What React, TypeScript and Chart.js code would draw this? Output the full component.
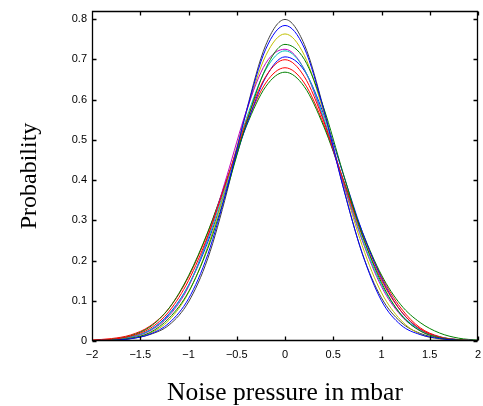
import React, { useEffect, useRef } from "react";
import { Chart, registerables } from "chart.js";

Chart.register(...registerables);

// x grid of the density estimates (mbar)
const xValues = [-2, -1.8, -1.6, -1.4, -1.2, -1, -0.8, -0.6, -0.4, -0.2, 0, 0.2, 0.4, 0.6, 0.8, 1, 1.2, 1.4, 1.6, 1.8, 2];

const xTickValues = [-2, -1.5, -1, -0.5, 0, 0.5, 1, 1.5, 2];
const yTickValues = [0, 0.1, 0.2, 0.3, 0.4, 0.5, 0.6, 0.7, 0.8];

// series values (probability density)
const seriesBlue1 = [0.0005, 0.0015, 0.0055, 0.017, 0.045, 0.105, 0.215, 0.38, 0.57, 0.725, 0.784, 0.728, 0.575, 0.385, 0.218, 0.1, 0.04, 0.016, 0.006, 0.0015, 0.0003];
const seriesGreen1 = [0.0006, 0.002, 0.007, 0.021, 0.057, 0.122, 0.23, 0.378, 0.542, 0.677, 0.737, 0.7, 0.58, 0.419, 0.264, 0.145, 0.066, 0.025, 0.008, 0.0025, 0.0007];
const seriesRed1 = [0.0015, 0.004, 0.012, 0.031, 0.074, 0.15, 0.261, 0.402, 0.547, 0.657, 0.699, 0.657, 0.547, 0.402, 0.262, 0.151, 0.075, 0.03, 0.01, 0.003, 0.001];
const seriesCyan = [0.0008, 0.0028, 0.01, 0.027, 0.066, 0.139, 0.252, 0.398, 0.553, 0.674, 0.721, 0.675, 0.555, 0.4, 0.254, 0.14, 0.067, 0.028, 0.01, 0.0033, 0.001];
const seriesMagenta = [0.001, 0.003, 0.009, 0.025, 0.063, 0.135, 0.258, 0.412, 0.572, 0.69, 0.725, 0.675, 0.55, 0.395, 0.25, 0.135, 0.064, 0.026, 0.009, 0.003, 0.0008];
const seriesYellow = [0.0005, 0.0015, 0.006, 0.019, 0.052, 0.12, 0.235, 0.393, 0.568, 0.709, 0.763, 0.71, 0.569, 0.395, 0.237, 0.12, 0.052, 0.017, 0.005, 0.0015, 0.0004];
const seriesBlack = [0.0005, 0.002, 0.006, 0.016, 0.04, 0.097, 0.205, 0.372, 0.572, 0.735, 0.799, 0.737, 0.578, 0.385, 0.218, 0.107, 0.047, 0.019, 0.007, 0.002, 0.0005];
const seriesBlue2 = [0.001, 0.003, 0.01, 0.027, 0.068, 0.138, 0.246, 0.387, 0.536, 0.655, 0.706, 0.672, 0.564, 0.417, 0.272, 0.156, 0.075, 0.029, 0.01, 0.003, 0.001];
const seriesGreen2 = [0.001, 0.004, 0.013, 0.035, 0.082, 0.162, 0.271, 0.403, 0.534, 0.632, 0.668, 0.632, 0.534, 0.403, 0.272, 0.164, 0.09, 0.046, 0.02, 0.007, 0.002];
const seriesRed2 = [0.0025, 0.006, 0.015, 0.037, 0.082, 0.159, 0.269, 0.403, 0.539, 0.641, 0.679, 0.641, 0.539, 0.403, 0.269, 0.16, 0.082, 0.033, 0.011, 0.0035, 0.001];

const seriesList = [seriesBlue1, seriesGreen1, seriesRed1, seriesCyan, seriesMagenta, seriesYellow, seriesBlack, seriesBlue2, seriesGreen2, seriesRed2];
const seriesColors = ["#0000ff", "#008000", "#ff0000", "#00bfbf", "#bf00bf", "#bfbf00", "#404040", "#0000ff", "#008000", "#ff0000"];

const fmt = (v: number) => {
  const s = String(Math.round(v * 100) / 100);
  return s.startsWith("-") ? "\u2212" + s.slice(1) : s;
};

const frameTicks = {
  id: "frameTicks",
  afterDatasetsDraw(chart: any) {
    const { ctx, chartArea } = chart;
    const { left, right, top, bottom } = chartArea;
    const xs = chart.scales.x;
    const ys = chart.scales.y;
    const L = Math.round(left) + 0.5;
    const R = Math.round(right) - 0.5;
    const T = Math.round(top) + 0.5;
    const B = Math.round(bottom) - 0.5;
    ctx.save();
    ctx.strokeStyle = "#000";
    ctx.lineWidth = 1.3;
    ctx.beginPath();
    ctx.rect(L, T, R - L, B - T);
    const tl = 4;
    xTickValues.forEach((v) => {
      const px = Math.round(xs.getPixelForValue(v)) + 0.5;
      ctx.moveTo(px, B);
      ctx.lineTo(px, B - tl);
      ctx.moveTo(px, T);
      ctx.lineTo(px, T + tl);
    });
    yTickValues.forEach((v) => {
      const py = Math.round(ys.getPixelForValue(v)) + 0.5;
      ctx.moveTo(L, py);
      ctx.lineTo(L + tl, py);
      ctx.moveTo(R, py);
      ctx.lineTo(R - tl, py);
    });
    ctx.stroke();
    ctx.restore();
  },
};

export default function App() {
  const ref = useRef<HTMLCanvasElement | null>(null);
  useEffect(() => {
    if (!ref.current) return;
    const datasets = seriesList.map((s, i) => ({
      data: s.map((v, j) => ({ x: xValues[j], y: v })),
      borderColor: seriesColors[i],
      backgroundColor: seriesColors[i],
      borderWidth: 1,
      pointRadius: 0,
      fill: false,
      cubicInterpolationMode: "monotone" as const,
    }));
    const chart = new Chart(ref.current, {
      type: "line",
      data: { datasets },
      options: {
        animation: false,
        responsive: false,
        layout: { padding: { top: 11, right: 0, left: 0, bottom: 0 } },
        plugins: { legend: { display: false }, tooltip: { enabled: false } },
        scales: {
          x: {
            type: "linear",
            min: -2,
            max: 2,
            afterBuildTicks: (scale: any) => {
              scale.ticks = xTickValues.map((v) => ({ value: v }));
            },
            afterFit: (scale: any) => {
              scale.height = 65;
              scale.paddingRight = 5;
              scale.paddingLeft = 0;
            },
            grid: { display: false, drawTicks: false },
            border: { display: false },
            ticks: {
              padding: 7,
              maxRotation: 0,
              autoSkip: false,
              color: "#000",
              font: { family: "Liberation Sans", size: 11 },
              callback: (v: any) => fmt(Number(v)),
            },
            title: {
              display: true,
              text: "Noise pressure in mbar",
              color: "#000",
              font: { family: "Liberation Serif", size: 25.5, lineHeight: 1 },
              padding: { top: 0, bottom: 0 },
            },
          },
          y: {
            type: "linear",
            min: 0,
            max: 0.82,
            afterBuildTicks: (scale: any) => {
              scale.ticks = yTickValues.map((v) => ({ value: v }));
            },
            afterFit: (scale: any) => {
              scale.width = 92;
              scale.paddingTop = 0;
              scale.paddingBottom = 0;
            },
            grid: { display: false, drawTicks: false },
            border: { display: false },
            ticks: {
              padding: 5,
              autoSkip: false,
              color: "#000",
              font: { family: "Liberation Sans", size: 11 },
              callback: (v: any) => fmt(Number(v)),
            },
            title: {
              display: true,
              text: "Probability",
              color: "#000",
              font: { family: "Liberation Serif", size: 24, lineHeight: 1 },
              padding: { top: 18, bottom: 0 },
            },
          },
        },
      },
      plugins: [frameTicks],
    });
    return () => chart.destroy();
  }, []);
  return (
    <div style={{ position: "absolute", left: 0, top: 0, width: 483, height: 406 }}>
      <canvas ref={ref} width={483} height={406} style={{ display: "block" }} />
    </div>
  );
}
